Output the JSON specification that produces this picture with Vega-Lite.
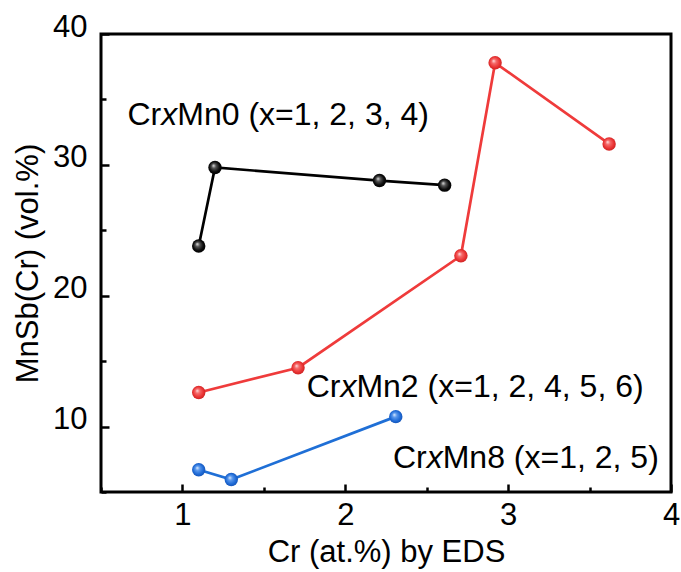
{
  "$schema": "https://vega.github.io/schema/vega-lite/v6.json",
  "width": 570,
  "height": 458,
  "autosize": "none",
  "padding": {"left": 101, "top": 34, "right": 10, "bottom": 80},
  "background": "white",
  "config": {
    "font": "Liberation Sans",
    "view": {"stroke": "black", "strokeWidth": 3},
    "axis": {
      "domain": false,
      "grid": false,
      "tickColor": "black",
      "tickWidth": 2.5,
      "labelColor": "black",
      "labelFontSize": 31,
      "labelFont": "Liberation Sans",
      "labelFlush": false,
      "labelOverlap": false,
      "titleColor": "black",
      "titleFontSize": 31,
      "titleFont": "Liberation Sans",
      "titleFontWeight": "normal"
    }
  },
  "datasets": {
    "pts": [
      {"series": "Mn0", "cr": 1.10, "vol": 23.8},
      {"series": "Mn0", "cr": 1.20, "vol": 29.8},
      {"series": "Mn0", "cr": 2.21, "vol": 28.8},
      {"series": "Mn0", "cr": 2.61, "vol": 28.45},
      {"series": "Mn2", "cr": 1.10, "vol": 12.6},
      {"series": "Mn2", "cr": 1.71, "vol": 14.5},
      {"series": "Mn2", "cr": 2.71, "vol": 23.05},
      {"series": "Mn2", "cr": 2.92, "vol": 37.8},
      {"series": "Mn2", "cr": 3.62, "vol": 31.6},
      {"series": "Mn8", "cr": 1.10, "vol": 6.7},
      {"series": "Mn8", "cr": 1.30, "vol": 5.95},
      {"series": "Mn8", "cr": 2.31, "vol": 10.76}
    ],
    "notes": [
      {"pre": "Cr", "it": "x", "rest": "Mn0 (x=1, 2, 3, 4)", "cr": 0.87, "vol": 33.07},
      {"pre": "Cr", "it": "x", "rest": "Mn2 (x=1, 2, 4, 5, 6)", "cr": 1.97, "vol": 12.27},
      {"pre": "Cr", "it": "x", "rest": "Mn8 (x=1, 2, 5)", "cr": 2.50, "vol": 6.84}
    ]
  },
  "layer": [
    {
      "data": {"name": "pts"},
      "mark": {"type": "line", "strokeWidth": 2.7},
      "encoding": {
        "x": {
          "field": "cr", "type": "quantitative",
          "scale": {"domain": [0.5, 4], "nice": false, "zero": false},
          "axis": {
            "title": "Cr (at.%) by EDS",
            "values": [0.5, 1, 1.5, 2, 2.5, 3, 3.5, 4],
            "labelExpr": "datum.value % 1 === 0 ? format(datum.value, 'd') : ''",
            "tickSize": {"condition": {"test": "datum.value % 1 === 0", "value": -8}, "value": -5},
            "labelPadding": 16,
            "titlePadding": 4
          }
        },
        "y": {
          "field": "vol", "type": "quantitative",
          "scale": {"domain": [5, 40], "nice": false, "zero": false},
          "axis": {
            "title": "MnSb(Cr) (vol.%)",
            "values": [5, 10, 15, 20, 25, 30, 35, 40],
            "labelExpr": "datum.value % 10 === 0 ? format(datum.value, 'd') : ''",
            "tickSize": {"condition": {"test": "datum.value % 10 === 0", "value": -8}, "value": -5},
            "labelPadding": 22,
            "labelOffset": -7,
            "titlePadding": 8
          }
        },
        "color": {
          "field": "series", "type": "nominal",
          "scale": {"domain": ["Mn0", "Mn2", "Mn8"], "range": ["#000000", "#ef3b3b", "#1f6fd6"]},
          "legend": null
        }
      }
    },
    {
      "data": {"name": "pts"},
      "transform": [{"filter": "datum.series === 'Mn0'"}],
      "mark": {
        "type": "circle", "size": 180, "opacity": 1,
        "color": {"gradient": "radial", "x1": 0.38, "y1": 0.35, "r1": 0, "x2": 0.5, "y2": 0.5, "r2": 0.55,
          "stops": [{"offset": 0, "color": "#e8e8e8"}, {"offset": 0.3, "color": "#555555"}, {"offset": 0.7, "color": "#0a0a0a"}, {"offset": 1, "color": "#000000"}]}
      },
      "encoding": {
        "x": {"field": "cr", "type": "quantitative"},
        "y": {"field": "vol", "type": "quantitative"}
      }
    },
    {
      "data": {"name": "pts"},
      "transform": [{"filter": "datum.series === 'Mn2'"}],
      "mark": {
        "type": "circle", "size": 180, "opacity": 1,
        "color": {"gradient": "radial", "x1": 0.38, "y1": 0.35, "r1": 0, "x2": 0.5, "y2": 0.5, "r2": 0.55,
          "stops": [{"offset": 0, "color": "#ffe4e4"}, {"offset": 0.3, "color": "#f56a6a"}, {"offset": 0.7, "color": "#ea3333"}, {"offset": 1, "color": "#c42020"}]}
      },
      "encoding": {
        "x": {"field": "cr", "type": "quantitative"},
        "y": {"field": "vol", "type": "quantitative"}
      }
    },
    {
      "data": {"name": "pts"},
      "transform": [{"filter": "datum.series === 'Mn8'"}],
      "mark": {
        "type": "circle", "size": 180, "opacity": 1,
        "color": {"gradient": "radial", "x1": 0.38, "y1": 0.35, "r1": 0, "x2": 0.5, "y2": 0.5, "r2": 0.55,
          "stops": [{"offset": 0, "color": "#e4f0ff"}, {"offset": 0.3, "color": "#5a98ec"}, {"offset": 0.7, "color": "#1e6ad6"}, {"offset": 1, "color": "#1450b0"}]}
      },
      "encoding": {
        "x": {"field": "cr", "type": "quantitative"},
        "y": {"field": "vol", "type": "quantitative"}
      }
    },
    {
      "data": {"name": "notes"},
      "mark": {"type": "text", "align": "right", "baseline": "alphabetic", "fontSize": 32, "font": "Liberation Sans", "color": "black"},
      "encoding": {
        "x": {"field": "cr", "type": "quantitative"},
        "y": {"field": "vol", "type": "quantitative"},
        "text": {"field": "pre"}
      }
    },
    {
      "data": {"name": "notes"},
      "mark": {"type": "text", "align": "left", "baseline": "alphabetic", "fontSize": 32, "fontStyle": "italic", "font": "Liberation Sans", "color": "black"},
      "encoding": {
        "x": {"field": "cr", "type": "quantitative"},
        "y": {"field": "vol", "type": "quantitative"},
        "text": {"field": "it"}
      }
    },
    {
      "data": {"name": "notes"},
      "mark": {"type": "text", "align": "left", "baseline": "alphabetic", "fontSize": 32, "dx": 16, "font": "Liberation Sans", "color": "black"},
      "encoding": {
        "x": {"field": "cr", "type": "quantitative"},
        "y": {"field": "vol", "type": "quantitative"},
        "text": {"field": "rest"}
      }
    }
  ]
}
